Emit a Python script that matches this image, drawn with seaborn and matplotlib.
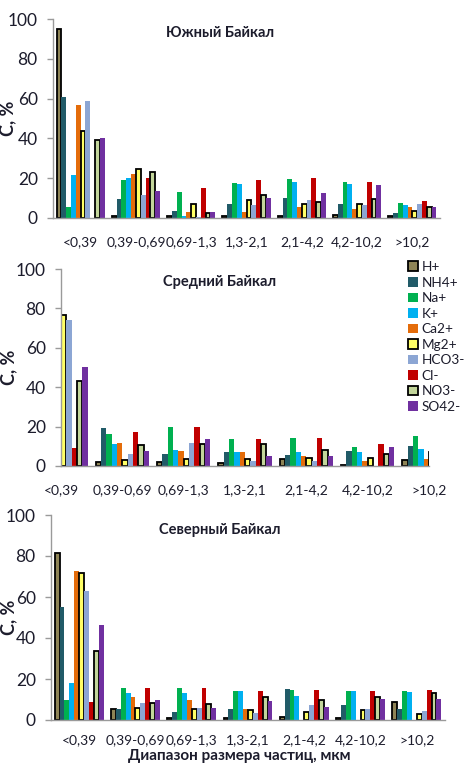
import numpy as np
import pandas as pd
import matplotlib
matplotlib.use("Agg")
import matplotlib.pyplot as plt
from matplotlib.patches import Patch
import seaborn as sns

ranges = ["<0,39", "0,39-0,69", "0,69-1,3", "1,3-2,1", "2,1-4,2", "4,2-10,2", ">10,2"]
ions = ["H+", "NH4+", "Na+", "K+", "Ca2+", "Mg2+", "HCO3-", "Cl-", "NO3-", "SO42-"]

# values per ion, one entry per size range
south = {
    "H+":    [95, 1, 1, 1, 0.8, 1.7, 0.8],
    "NH4+":  [61, 9.5, 3.5, 6.9, 10.2, 6.9, 2.3],
    "Na+":   [5.5, 19.2, 12.9, 17.7, 19.6, 18.2, 7.7],
    "K+":    [21.4, 20.2, 1.2, 17, 18.2, 17, 6.5],
    "Ca2+":  [57, 22.2, 3, 3, 5.7, 4.3, 5.7],
    "Mg2+":  [43.8, 24.6, 6.9, 8.9, 6.9, 7, 3.5],
    "HCO3-": [59, 11.7, 0.5, 6.4, 9, 6.4, 7],
    "Cl-":   [0, 20.2, 14.9, 18.9, 20.2, 18.2, 8.5],
    "NO3-":  [39, 23.2, 2.5, 11.5, 8.2, 9.5, 5.5],
    "SO42-": [40, 13.5, 3, 10.2, 12.4, 16.4, 5.7],
}
middle = {
    "H+":    [55, 2.2, 2.2, 1.5, 3.4, 0.7, 2.9],
    "NH4+":  [20, 19.2, 6.3, 7.1, 5.6, 7.6, 10.3],
    "Na+":   [0, 16.4, 19.8, 13.7, 14.4, 9.8, 15.1],
    "K+":    [0, 11.2, 8.3, 7.1, 7.3, 7.3, 8.5],
    "Ca2+":  [0, 11.9, 7.6, 7.1, 5.1, 2.4, 3.7],
    "Mg2+":  [76.4, 2.9, 3.4, 3.6, 4, 4.2, 7.1],
    "HCO3-": [74, 6.3, 11.7, 2.4, 2.4, 0, 0],
    "Cl-":   [9.3, 17.3, 19.8, 13.9, 14.4, 11.2, 0],
    "NO3-":  [43, 10.8, 11.4, 11, 8.1, 6.3, 0],
    "SO42-": [50.5, 7.8, 13.7, 5.1, 5.1, 9.8, 0],
}
north = {
    "H+":    [81.3, 5.2, 0.8, 0.8, 1.3, 0.8, 8.9],
    "NH4+":  [55.3, 5.2, 3.9, 5.2, 15.3, 7.2, 5.2],
    "Na+":   [9.8, 15.4, 15.4, 14.1, 14.8, 14.1, 14.1],
    "K+":    [18.2, 13, 13, 14.1, 11.5, 14.1, 13.5],
    "Ca2+":  [72.7, 11, 9.8, 5.2, 0, 0, 0],
    "Mg2+":  [71.5, 5.7, 5.2, 4.9, 3.9, 5, 3.1],
    "HCO3-": [62.9, 8.5, 5.9, 3.3, 7.2, 5.2, 4.6],
    "Cl-":   [8.6, 15.4, 15.4, 14.1, 14.8, 14.1, 14.8],
    "NO3-":  [33.8, 8.3, 7.8, 11.4, 9.6, 11.4, 13.3],
    "SO42-": [46.2, 9.8, 5.9, 9.1, 6.5, 10.2, 10.4],
}
titles = ["Южный Байкал", "Средний Байкал", "Северный Байкал"]
ylabel = "С, %"
xlabel = "Диапазон размера частиц, мкм"

colors = ["#8E8456", "#215B68", "#00B050", "#00B0F0", "#E46C0A",
          "#FFFF66", "#8CA6D4", "#C00000", "#C3D69B", "#7030A0"]
edged = {"H+", "Mg2+", "NO3-"}

sns.set_theme(style="white")
plt.rcParams["font.family"] = ["Lato", "DejaVu Sans"]
text_color = "#1c1c2c"

W, H = 466, 764
fig = plt.figure(figsize=(W / 100, H / 100), dpi=100)

# axes boxes in pixels: left, right, top(100), bottom(0)
boxes = [(53, 440, 19, 218), (61, 429, 269, 466), (51, 445, 515, 720)]
ylab_x = [16, 17, 17]
title_y = [33, 282, 530]
xpads = [13, 13, 10]
datasets = [south, middle, north]

for i, (data, box) in enumerate(zip(datasets, boxes)):
    l, r, t, b = box
    ax = fig.add_axes([l / W, 1 - b / H, (r - l) / W, (b - t) / H])
    rows = []
    for ion in ions:
        for rg, v in zip(ranges, data[ion]):
            rows.append({"range": rg, "ion": ion, "value": v})
    df = pd.DataFrame(rows)
    sns.barplot(data=df, x="range", y="value", hue="ion", order=ranges,
                hue_order=ions, palette=colors, width=0.87, gap=0,
                saturation=1, ax=ax, legend=False, errorbar=None)
    for ion, cont in zip(ions, ax.containers):
        for p in cont.patches:
            if ion in edged:
                p.set_edgecolor("black")
                p.set_linewidth(1.3)
            else:
                p.set_edgecolor("none")
    ax.set_ylim(0, 100)
    if i == 1:
        ax.set_xlim(0, 6)
    else:
        ax.set_xlim(-0.5, 6.5)
    ax.set_yticks([0, 20, 40, 60, 80, 100])
    for s in ["top", "right"]:
        ax.spines[s].set_visible(False)
    for s in ["left", "bottom"]:
        ax.spines[s].set_color("#9a9a9a")
        ax.spines[s].set_linewidth(1.0)
    ax.tick_params(axis="y", left=True, length=4, width=1, color="#9a9a9a",
                   pad=7, labelsize=12.5, labelcolor=text_color)
    ax.tick_params(axis="x", bottom=False, length=0, pad=xpads[i], labelsize=10,
                   labelcolor=text_color)
    ax.set_ylabel(ylabel, fontsize=13, fontweight="bold", color=text_color)
    ax.yaxis.set_label_coords((ylab_x[i] - l) / (r - l), 0.5)
    ax.set_xlabel("")
    fig.text(220 / W, 1 - title_y[i] / H, titles[i], ha="center", va="center",
             fontsize=10.5, fontweight="bold", color=text_color)

fig.text(239 / W, 1 - 763 / H, xlabel, ha="center", va="bottom",
         fontsize=11, fontweight="bold", color=text_color)

handles = [Patch(facecolor=c, edgecolor="black" if ion in edged else c,
                 linewidth=1.3 if ion in edged else 0)
           for ion, c in zip(ions, colors)]
fig.legend(handles, ions, loc="upper left",
           bbox_to_anchor=(408 / W, 1 - 261 / H), frameon=False,
           handlelength=0.7, handleheight=0.7, handletextpad=0.3,
           labelspacing=0.26, fontsize=9.8, borderaxespad=0, borderpad=0,
           labelcolor=text_color)

fig.savefig("out.png", dpi=100)
